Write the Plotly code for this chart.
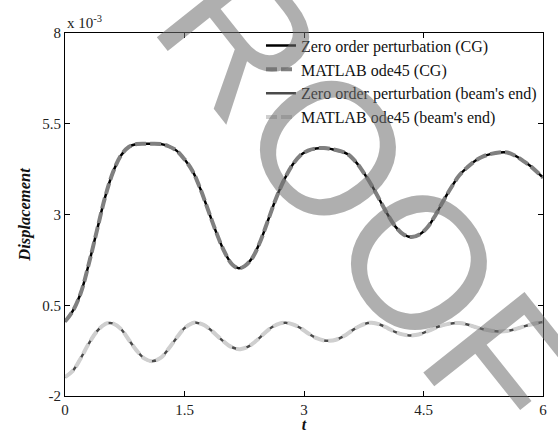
import plotly.graph_objects as go

# ---- data ----
t_cg = [0.00, 0.10, 0.20, 0.30, 0.40, 0.50, 0.60, 0.70, 0.80, 0.90, 1.00, 1.10, 1.20, 1.30,
        1.40, 1.50, 1.60, 1.70, 1.80, 1.90, 2.00, 2.10, 2.18, 2.25, 2.35, 2.45, 2.55, 2.65,
        2.75, 2.85, 2.95, 3.05, 3.15, 3.25, 3.35, 3.45, 3.55, 3.65, 3.75, 3.85, 3.95, 4.05,
        4.15, 4.25, 4.35, 4.45, 4.55, 4.65, 4.75, 4.85, 4.95, 5.05, 5.15, 5.25, 5.35, 5.45,
        5.55, 5.65, 5.75, 5.85, 5.95, 6.00]
disp_cg = [0.05, 0.35, 0.85, 1.65, 2.55, 3.45, 4.15, 4.62, 4.86, 4.94, 4.95, 4.95, 4.94, 4.88,
           4.76, 4.52, 4.20, 3.70, 3.10, 2.50, 1.98, 1.62, 1.52, 1.57, 1.80, 2.25, 2.85, 3.45,
           3.95, 4.35, 4.62, 4.76, 4.82, 4.83, 4.80, 4.75, 4.66, 4.45, 4.15, 3.80, 3.40, 3.00,
           2.66, 2.45, 2.38, 2.45, 2.65, 2.98, 3.38, 3.75, 4.08, 4.30, 4.48, 4.60, 4.67, 4.71,
           4.71, 4.62, 4.48, 4.32, 4.12, 4.02]

t_end = [0.00, 0.10, 0.20, 0.30, 0.40, 0.50, 0.55, 0.60, 0.70, 0.80, 0.90, 1.00, 1.09, 1.20,
         1.30, 1.40, 1.50, 1.60, 1.65, 1.75, 1.85, 1.95, 2.05, 2.15, 2.20, 2.30, 2.40, 2.50,
         2.60, 2.70, 2.77, 2.85, 2.95, 3.05, 3.15, 3.25, 3.32, 3.40, 3.50, 3.60, 3.70, 3.80,
         3.85, 3.95, 4.05, 4.15, 4.25, 4.32, 4.40, 4.50, 4.60, 4.70, 4.80, 4.90, 4.95, 5.05,
         5.15, 5.25, 5.35, 5.45, 5.55, 5.65, 5.75, 5.85, 5.95, 6.00]
disp_end = [-1.48, -1.30, -0.95, -0.55, -0.22, -0.02, 0.01, 0.00, -0.15, -0.45, -0.75, -0.97,
            -1.04, -0.95, -0.70, -0.40, -0.13, 0.01, 0.02, -0.05, -0.22, -0.42, -0.60, -0.70,
            -0.71, -0.64, -0.48, -0.28, -0.10, 0.00, 0.02, -0.02, -0.12, -0.27, -0.40, -0.47,
            -0.48, -0.45, -0.35, -0.20, -0.07, 0.01, 0.02, -0.03, -0.13, -0.24, -0.31, -0.33,
            -0.32, -0.26, -0.17, -0.08, -0.02, 0.01, 0.01, -0.03, -0.10, -0.16, -0.20, -0.22,
            -0.21, -0.16, -0.09, -0.03, 0.02, 0.04]

y_ticks = [-2, 0.5, 3, 5.5, 8]
y_ticklabels = ["-2", "0.5", "3", "5.5", "8"]
x_ticks = [0, 1.5, 3, 4.5, 6]
x_ticklabels = ["0", "1.5", "3", "4.5", "6"]

names = ["Zero order perturbation (CG)", "MATLAB ode45 (CG)",
         "Zero order perturbation (beam's end)", "MATLAB ode45 (beam's end)"]

SERIF = "Liberation Serif, Times New Roman, serif"

fig = go.Figure()
fig.add_trace(go.Scatter(x=t_cg, y=disp_cg, mode="lines", name=names[0],
                         line=dict(color="#000000", width=2.5, shape="spline")))
fig.add_trace(go.Scatter(x=t_cg, y=disp_cg, mode="lines", name=names[1],
                         line=dict(color="#808080", width=4, dash="11px,4px", shape="spline")))
fig.add_trace(go.Scatter(x=t_end, y=disp_end, mode="lines", name=names[2],
                         line=dict(color="#4a4a4a", width=2.5, shape="spline")))
fig.add_trace(go.Scatter(x=t_end, y=disp_end, mode="lines", name=names[3],
                         line=dict(color="#cfcfcf", width=4, dash="11px,4px", shape="spline")))

axis_common = dict(showline=True, linecolor="#000000", linewidth=1, mirror="ticks",
                   ticks="inside", ticklen=5, tickcolor="#000000", showgrid=False,
                   zeroline=False,
                   tickfont=dict(family=SERIF, size=15, color="#222222"))

fig.update_xaxes(range=[0, 6], tickvals=x_ticks, ticktext=x_ticklabels, automargin=True,
                 title=dict(text="<b><i>t</i></b>", font=dict(family=SERIF, size=16, color="#111111"),
                            standoff=1),
                 **axis_common)
fig.update_yaxes(range=[-2, 8], tickvals=y_ticks, ticktext=y_ticklabels, automargin=False,
                 title=dict(text="<b><i>Displacement</i></b>", font=dict(family=SERIF, size=16.5, color="#111111"),
                            standoff=7),
                 **axis_common)

fig.update_layout(
    width=558, height=433,
    margin=dict(l=65, r=15, t=33, b=37, autoexpand=False),
    plot_bgcolor="white", paper_bgcolor="white",
    showlegend=True,
    legend=dict(x=0.41, y=1.012, xanchor="left", yanchor="top",
                bgcolor="rgba(0,0,0,0)", borderwidth=0,
                font=dict(family=SERIF, size=16, color="#111111"),
                tracegroupgap=0),
    annotations=[
        dict(text="x 10<sup>-3</sup>", xref="paper", yref="paper", x=0.0, y=1.0,
             xanchor="left", yanchor="bottom", showarrow=False, yshift=0,
             font=dict(family=SERIF, size=15, color="#222222")),
        dict(text="PROOF", xref="paper", yref="paper", x=0.550, y=0.683,
             xanchor="center", yanchor="middle", showarrow=False, textangle=51.5,
             font=dict(family="Liberation Sans, sans-serif", size=188,
                       color="rgba(110,110,110,0.55)")),
    ],
)

fig.write_html("out.html")
